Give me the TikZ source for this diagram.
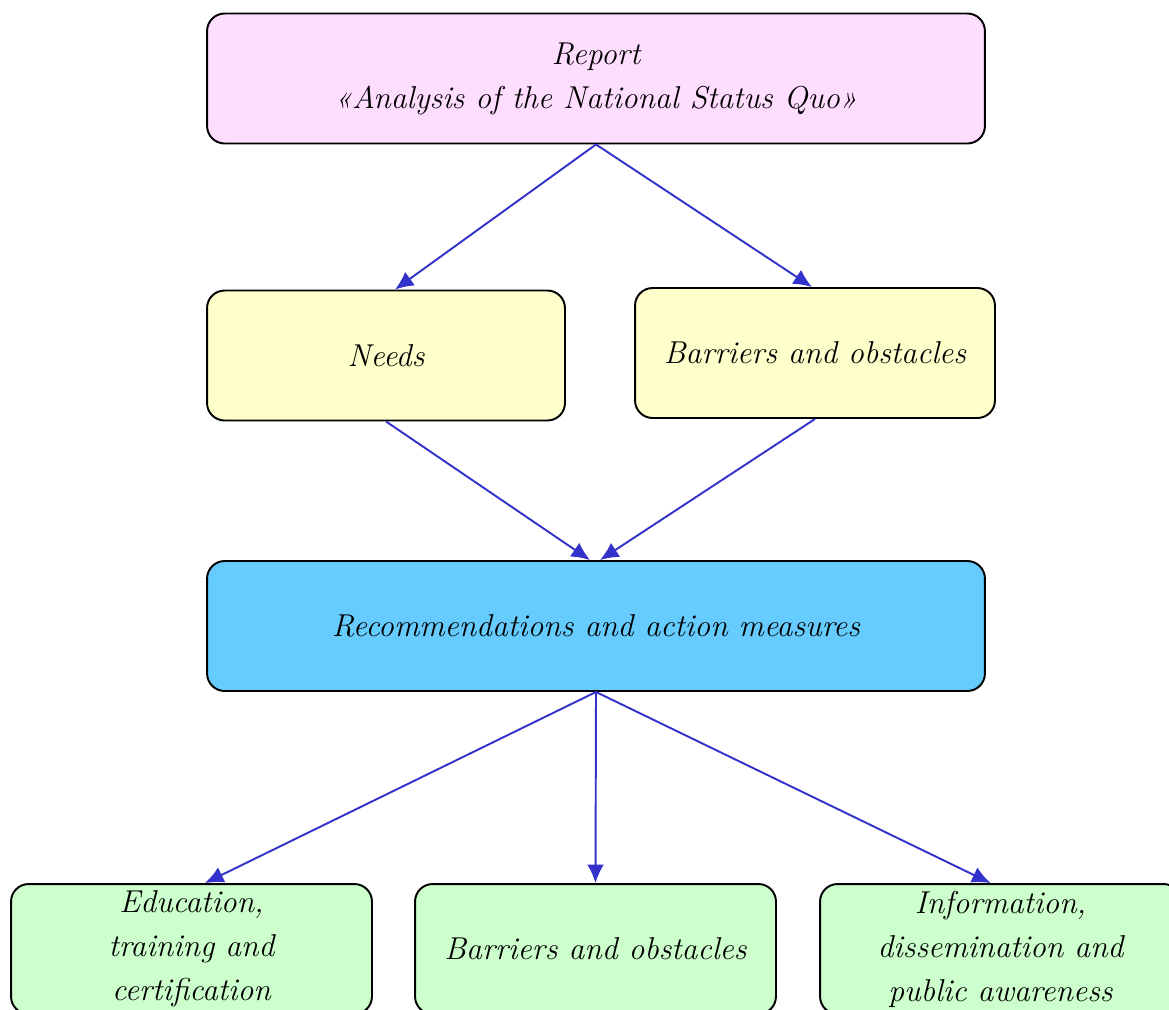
\documentclass[tikz,border=0pt]{standalone}
\usepackage{xcolor}
\usepackage{tikz}
\usetikzlibrary{arrows.meta}
\usetikzlibrary{positioning}
\definecolor{reportpink}{HTML}{FFDDFF}
\definecolor{findyellow}{HTML}{FFFFCC}
\definecolor{recblue}{HTML}{66CCFF}
\definecolor{areagreen}{HTML}{CCFFCC}
\definecolor{linkblue}{HTML}{3333CC}
\tikzset{>={Latex[length=10.5pt,width=9.5pt]}}
\tikzstyle{box} = [draw=black, line width=1.1pt, rounded corners=10pt, align=center, font=\itshape\fontsize{18}{25}\selectfont, minimum height=2.6cm]
\tikzstyle{link} = [->, draw=linkblue, fill=linkblue, line width=1.1pt]

\begin{document}
\begin{tikzpicture}[x=0.02cm, y=-0.02cm]
\useasboundingbox (0,0) rectangle (1169,1009);
\node [box, fill=reportpink, minimum width=15.56cm] (report) at (596, 78.5) {Report\\«Analysis of the National Status Quo»};
\node [box, fill=findyellow, minimum width=7.16cm] (needs) at (386, 355.5) {Needs};
\node [box, fill=findyellow, minimum width=7.2cm] (barriers) at (815, 353) {Barriers and obstacles};
\node [box, fill=recblue, minimum width=15.56cm] (recs) at (596, 626) {Recommendations and action measures};
\node [box, fill=areagreen, minimum width=7.22cm] (edu) at (191.5, 949) {Education,\\training and\\certification};
\node [box, fill=areagreen, minimum width=7.22cm] (barriers2) at (595.5, 949) {Barriers and obstacles};
\node [box, fill=areagreen, minimum width=7.22cm] (info) at (1000.5, 949) {Information,\\dissemination and\\public awareness};
\draw [link] (report.south) to ([xshift=0.18cm]needs.north);
\draw [link] (report.south) to ([xshift=-0.06cm]barriers.north);
\draw [link] (needs.south) to ([xshift=-0.12cm]recs.north);
\draw [link] (barriers.south) to ([xshift=0.08cm]recs.north);
\draw [link] (recs.south) to ([xshift=0.27cm]edu.north);
\draw [link] (recs.south) to (barriers2.north);
\draw [link] (recs.south) to ([xshift=-0.2cm]info.north);
\end{tikzpicture}
\end{document}
